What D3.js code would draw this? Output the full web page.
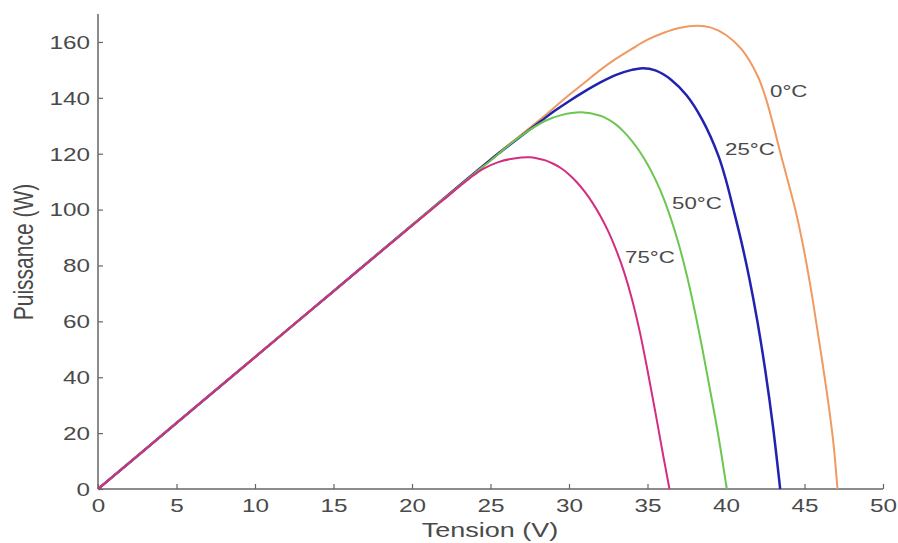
<!DOCTYPE html>
<html><head><meta charset="utf-8">
<script src="https://cdn.jsdelivr.net/npm/d3@7"></script>
<style>body{margin:0;background:#fff}svg{display:block}text{font-family:"Liberation Sans",Arial,sans-serif}</style>
</head><body><svg id="c" width="898" height="543"></svg>
<script>
const xTicks = [0,5,10,15,20,25,30,35,40,45,50];
const yTicks = [0,20,40,60,80,100,120,140,160];
const seriesNames = ["0°C","25°C","50°C","75°C"];
const p0 = [[0,0],[5,23.6],[10,47.2],[15,70.8],[20,94.4],[25,118],[28,131.5],[30,141],[31,145.5],[32,150],[33,154],[34,157.5],[35,160.8],[36,163.2],[37,165],[38.2,165.8],[39,165.2],[40,162.5],[41,157.3],[42,148],[42.5,140.5],[43,130.5],[43.5,119.5],[44,109],[44.5,98],[45,84.5],[45.5,68.5],[46,50.5],[46.5,31.5],[46.85,16],[47.1,0]];
const p25 = [[0,0],[5,23.6],[10,47.2],[15,70.8],[20,94.4],[25,117.8],[27,126.5],[28.2,131.6],[29,135],[30,138.8],[31,142.3],[32,145.5],[33,148.2],[34,150],[34.7,150.6],[35.5,149.8],[36.5,146.5],[37.5,140.8],[38.5,132],[39.5,119.5],[40,110.5],[40.5,99.5],[41,88],[41.5,75],[42,60],[42.5,42.5],[43,22],[43.45,0]];
const p50 = [[0,0],[5,23.6],[10,47.2],[15,70.8],[20,94.4],[24,113],[25,117.5],[26.2,123.2],[27.5,128.5],[28.5,131.8],[29.5,133.8],[30.8,134.8],[32,133.6],[32.5,132.3],[33,130.4],[33.5,127.8],[34,124.6],[34.5,120.8],[35,116.2],[35.5,110.8],[36,104.4],[36.5,96.6],[37,87.4],[37.5,76.6],[38,64],[38.5,50],[39,35],[39.5,19.5],[40.05,0]];
const p75 = [[0,0],[5,23.6],[10,47.2],[15,70.8],[20,94.2],[22,103.5],[23.7,111.3],[24.5,114.5],[25.5,117],[26.5,118.3],[27.5,118.7],[28,118.3],[28.5,117.6],[29,116.4],[29.5,114.8],[30,112.6],[30.5,109.8],[31,106.4],[31.5,102.4],[32,97.7],[32.5,92.2],[33,85.6],[33.5,77.8],[34,68.2],[34.5,56.5],[35,42.5],[35.5,27.5],[36,12],[36.4,0]];
const colors = ["#f09a62","#2222b0","#6cc650","#d42d80"];

const SX = 1.35; // horizontal text stretch seen in the reference
const svg = d3.select("#c");
const x = d3.scaleLinear().domain([0,50]).range([98,883]);
const y = d3.scaleLinear().domain([0,170]).range([489,14]);
const axisColor = "#666";

const gx = svg.append("g").attr("transform","translate(0,489)")
  .call(d3.axisBottom(x).tickValues(xTicks).tickSize(-5).tickPadding(10).tickFormat(d3.format("d")));
const gy = svg.append("g").attr("transform","translate(98,0)")
  .call(d3.axisLeft(y).tickValues(yTicks).tickSize(-5).tickPadding(8).tickFormat(d3.format("d")));
[gx,gy].forEach(g=>{
  g.select(".domain").attr("stroke",axisColor).attr("stroke-width",1.5);
  g.selectAll(".tick line").attr("stroke",axisColor).attr("stroke-width",1.2);
  g.selectAll(".tick text").attr("fill","#4a4a4a").style("font-size","18px");
});
gx.select(".domain").attr("d","M98,0H883");
gy.select(".domain").attr("d","M0,489V14");
gx.selectAll(".tick text").attr("y",null).attr("dy",null)
  .attr("transform","translate(0,23) scale("+SX+",1)");
gy.selectAll(".tick text").attr("x",null).attr("dy","0.35em")
  .attr("transform","translate(-8,0) scale("+SX+",1)");

const line = d3.line().x(d=>x(d[0])).y(d=>y(d[1])).curve(d3.curveCatmullRom.alpha(0.5));
const data = [p0,p25,p50,p75];
data.forEach((s,i)=>{
  svg.append("path").attr("d",line(s)).attr("fill","none")
    .attr("stroke",colors[i]).attr("stroke-width", i===1?2.5:2);
});

const labels = [[770,97],[725,155],[672,209],[625,263]];
seriesNames.forEach((n,i)=>{
  svg.append("text").attr("transform","translate("+labels[i][0]+","+labels[i][1]+") scale("+SX+",1)")
    .text(n).attr("fill","#4a4a4a").style("font-size","16.5px");
});

svg.append("text").attr("transform","translate(490,537) scale("+SX+",1)").attr("text-anchor","middle")
  .attr("fill","#4a4a4a").style("font-size","20px").text("Tension (V)");
svg.append("text").attr("transform","translate(33,252) scale("+SX+",1) rotate(-90)").attr("text-anchor","middle")
  .attr("fill","#4a4a4a").style("font-size","21px").text("Puissance (W)");
</script></body></html>
